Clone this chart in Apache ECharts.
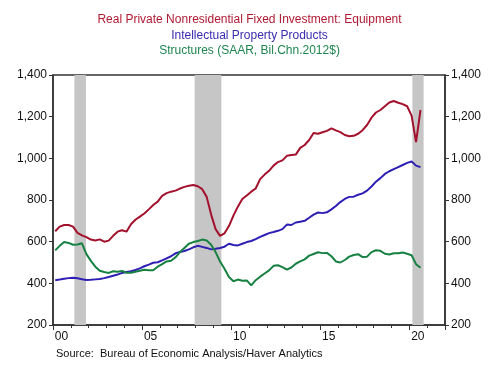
<!DOCTYPE html>
<html><head><meta charset="utf-8">
<script src="https://cdn.jsdelivr.net/npm/echarts@6/dist/echarts.min.js"></script>
<style>html,body{margin:0;padding:0;background:#fff}#c{width:499px;height:374px}</style>
</head><body><div id="c"></div>
<script>
// Quarterly data, 2000Q1 .. 2020Q3 (Bil. Chn. 2012$, SAAR)
const startYear = 2000;
const equipment = [650,672,680,680,672,642,630,622,610,606,611,600,605,628,648,655,648,684,705,720,
  735,755,776,792,820,833,840,845,855,863,868,872,866,852,815,730,660,628,640,675,
  725,768,805,822,840,855,900,922,940,965,982,990,1012,1016,1018,1050,1064,1088,1122,1118,
  1125,1132,1144,1134,1126,1112,1106,1108,1118,1135,1160,1195,1220,1232,1250,1268,1275,1267,1260,1250,
  1205,1078,1232];
const ipp = [415,418,422,425,427,424,420,416,417,419,421,425,430,436,442,450,454,458,464,472,
  482,490,499,501,510,520,530,544,550,555,563,573,580,575,570,563,566,570,576,590,
  584,582,590,598,603,612,623,632,641,646,652,660,682,680,692,696,700,715,730,740,
  737,741,755,771,790,805,815,816,825,832,845,865,888,905,925,938,948,958,968,978,
  985,965,958];
const structures = [558,580,598,594,585,586,592,540,508,480,460,454,450,458,456,459,451,451,456,460,
  465,463,463,480,492,505,508,525,550,570,590,598,603,610,606,585,550,505,470,430,
  410,418,412,414,390,415,432,447,462,484,487,478,466,476,494,505,515,533,541,549,
  545,546,530,505,500,512,528,536,540,526,528,550,559,556,542,538,544,544,548,542,
  535,492,475];
const recessions = [[2001.2, 2001.85], [2007.95, 2009.45], [2020.17, 2020.8]];
const titleLines = ['Real Private Nonresidential Fixed Investment: Equipment',
  'Intellectual Property Products', 'Structures (SAAR, Bil.Chn.2012$)'];
const sourceText = 'Source:  Bureau of Economic Analysis/Haver Analytics';

const toXY = arr => arr.map((v, i) => [startYear + i / 4 + 0.125, v]);
const colors = ['#A3112C', '#2E1FB4', '#178142'];
const titleColors = ['#B01A33', '#3A2CB0', '#1E8550'];
const FONT = 'Liberation Sans, Arial, sans-serif';

const chart = echarts.init(document.getElementById('c'));
const yAxisCommon = {
  type: 'value', min: 200, max: 1400, interval: 200,
  axisLine: {show: true, lineStyle: {color: '#333', width: 1.5}},
  axisTick: {show: true, length: 4, lineStyle: {color: '#333'}},
  splitLine: {show: false},
  axisLabel: {color: '#111', fontSize: 12, fontFamily: FONT, margin: 6,
    formatter: v => v.toLocaleString('en-US')}
};
chart.setOption({
  animation: false,
  title: titleLines.map((t, i) => ({
    text: t, left: 'center', top: 9 + i * 15.5,
    textStyle: {fontSize: 12, fontWeight: 'normal', color: titleColors[i], fontFamily: FONT}
  })),
  grid: {left: 53, right: 54, top: 75, bottom: 49, show: true, borderColor: '#333', borderWidth: 1.5},
  xAxis: {
    type: 'value', min: 2000, max: 2022, interval: 5,
    axisLine: {show: true, onZero: false, lineStyle: {color: '#333', width: 1.5}},
    axisTick: {show: true, length: 5, lineStyle: {color: '#333'}},
    minorTick: {show: true, splitNumber: 5, length: 3, lineStyle: {color: '#333'}},
    splitLine: {show: false},
    axisLabel: {color: '#111', fontSize: 12, fontFamily: FONT, margin: 6,
      padding: [0, 0, 0, 17], showMaxLabel: false,
      formatter: v => (v % 5 === 0 && v < 2022) ? String(v).slice(2) : ''}
  },
  yAxis: [Object.assign({position: 'left'}, yAxisCommon),
          Object.assign({position: 'right'}, yAxisCommon)],
  series: [
    {type: 'line', data: [], z: 1, silent: true,
      markArea: {silent: true, itemStyle: {color: '#C6C6C6'},
        data: recessions.map(r => [{xAxis: r[0]}, {xAxis: r[1]}])}},
    {type: 'line', name: 'Equipment', data: toXY(equipment), showSymbol: false, z: 3,
      lineStyle: {color: colors[0], width: 2}},
    {type: 'line', name: 'IPP', data: toXY(ipp), showSymbol: false, z: 3,
      lineStyle: {color: colors[1], width: 2}},
    {type: 'line', name: 'Structures', data: toXY(structures), showSymbol: false, z: 3,
      lineStyle: {color: colors[2], width: 2}}
  ],
  graphic: [{type: 'text', left: 56, top: 348,
    style: {text: sourceText, fontSize: 11, fontFamily: FONT, fill: '#111'}}]
});
</script></body></html>
